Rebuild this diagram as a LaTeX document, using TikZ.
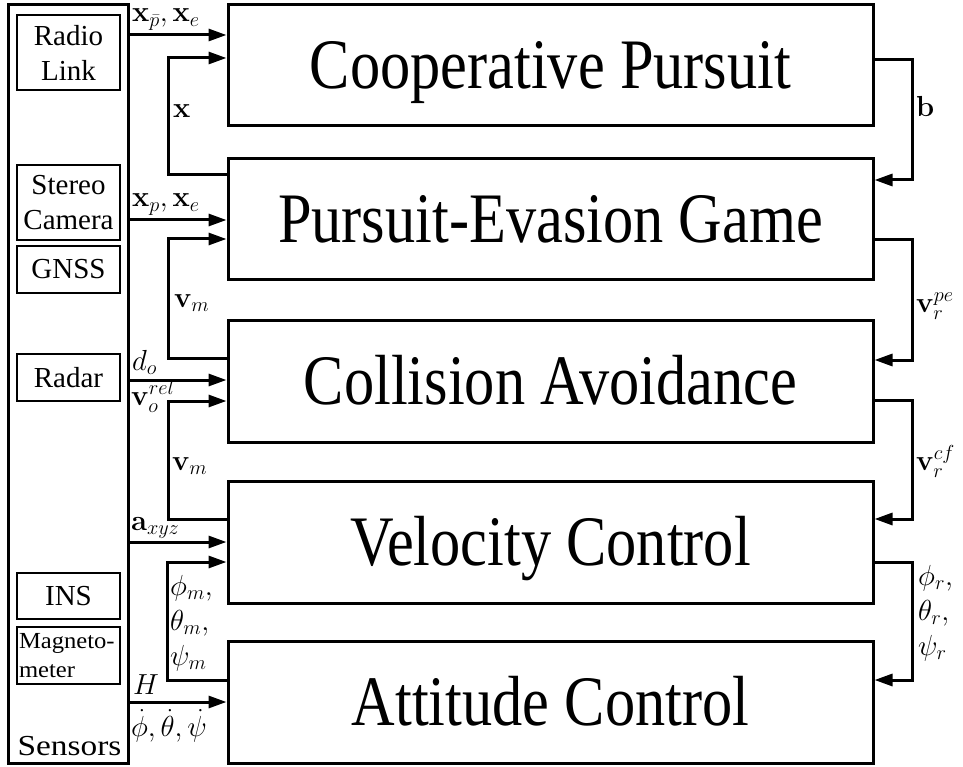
\RequirePackage{fix-cm}
\documentclass[tikz,border=0pt]{standalone}
\usepackage[no-math]{fontspec}
\newfontfamily\blocktextfamily{Liberation Serif}
\usetikzlibrary{arrows.meta}

% font set-ups for the three kinds of text
\newcommand\blockfont{\blocktextfamily\fontsize{71}{80}\selectfont}
\newcommand\sensorfont{\blocktextfamily\fontsize{29}{35}\selectfont}
\newcommand\smallsensorfont{\blocktextfamily\fontsize{23}{29}\selectfont}
\newcommand\signalfont{\fontsize{29}{35}\selectfont}
\newcommand\narrowtext[1]{\scalebox{0.85}[1]{#1}}
\newcommand\widetext[1]{\scalebox{1.07}[1]{#1}}

\begin{document}
\begin{tikzpicture}[x=1pt,y=1pt,
  block/.style={draw, line width=3pt, minimum width=645pt, inner sep=0pt,
    text height=47pt, text depth=0pt, font=\blockfont},
  sensbox/.style={draw, line width=2pt, minimum width=103pt, inner sep=0pt,
    align=center, font=\sensorfont},
  wire/.style={line width=3pt},
  arr/.style={wire, -{Triangle[length=18pt,width=12pt]}},
  sig/.style={inner sep=0pt, anchor=base west, font=\signalfont},
]
\useasboundingbox (0,0) rectangle (963,-767);

% control loop blocks
\node[block, minimum height=121pt] (coop)  at (550.5,-65.5) {\narrowtext{Cooperative Pursuit}};
\node[block, minimum height=120pt] (peg)   at (550.5,-219)  {\narrowtext{Pursuit-Evasion Game}};
\node[block, minimum height=122pt] (colav) at (550.5,-381)  {\narrowtext{Collision Avoidance}};
\node[block, minimum height=122pt] (velc)  at (550.5,-542)  {\narrowtext{Velocity Control}};
\node[block, minimum height=122pt] (attc)  at (550.5,-702)  {\narrowtext{Attitude Control}};

% sensor column
\node[draw, line width=3pt, minimum width=120pt, minimum height=758pt, inner sep=0pt] (sens) at (68,-384) {};
\node[sensbox, minimum height=75pt] (radio)  at (68.5,-52.5)  {Radio\\Link};
\node[sensbox, minimum height=75pt] (stereo) at (68.5,-202.5) {Stereo\\Camera};
\node[sensbox, minimum height=47pt] (gnss)   at (68.5,-269.5) {GNSS};
\node[sensbox, minimum height=47pt] (radar)  at (68.5,-377.5) {Radar};
\node[sensbox, minimum height=46pt] (ins)    at (68.5,-596)   {INS};
\node[sensbox, minimum height=57pt, font=\smallsensorfont, align=left, text width=99pt] (magn) at (68.5,-655.5) {\widetext{Magneto-}\\\widetext{meter}};
\node[inner sep=0pt, anchor=base, font=\sensorfont] (senslbl) at (69.5,-755) {\scalebox{1.15}[1]{Sensors}};

% sensor signals into the blocks
\draw[arr] (sens.east |- 0,-35)  -- (coop.west |- 0,-35);
\draw[arr] (sens.east |- 0,-220) -- (peg.west |- 0,-220);
\draw[arr] (sens.east |- 0,-380) -- (colav.west |- 0,-380);
\draw[arr] (sens.east |- 0,-542) -- (velc.west |- 0,-542);
\draw[arr] (sens.east |- 0,-702) -- (attc.west |- 0,-702);

% feedback paths on the left
\draw[arr] (peg.west |- 0,-175)   -- ++(-58,0) |- (coop.west |- 0,-58);
\draw[arr] (colav.west |- 0,-358) -- ++(-58,0) |- (peg.west |- 0,-239);
\draw[arr] (velc.west |- 0,-519)  -- ++(-58,0) |- (colav.west |- 0,-401);
\draw[arr] (attc.west |- 0,-680)  -- ++(-59,0) |- (velc.west |- 0,-562);

% references passed down on the right
\draw[arr] (coop.east |- 0,-60)  -- ++(38,0) |- (peg.east |- 0,-180);
\draw[arr] (peg.east |- 0,-240)  -- ++(38,0) |- (colav.east |- 0,-360);
\draw[arr] (colav.east |- 0,-400) -- ++(38,0) |- (velc.east |- 0,-519);
\draw[arr] (velc.east |- 0,-562) -- ++(38,0) |- (attc.east |- 0,-680);

% signal labels, left side
\node[sig] (lxpbar) at (132,-22)  {$\mathbf{x}_{\bar{p}},\mathbf{x}_e$};
\node[sig] (lx)     at (173,-118) {$\mathbf{x}$};
\node[sig] (lxp)    at (132,-207) {$\mathbf{x}_p,\mathbf{x}_e$};
\node[sig] (lvmone) at (174,-307) {$\mathbf{v}_m$};
\node[sig] (ldo)    at (132,-370) {$d_o$};
\node[sig] (lvrel)  at (131,-405) {$\mathbf{v}_o^{rel}$};
\node[sig] (lvmtwo) at (172,-470) {$\mathbf{v}_m$};
\node[sig] (laxyz)  at (131,-530) {$\mathbf{a}_{xyz}$};
\node[sig] (lphim)  at (170,-595) {$\phi_m,$};
\node[sig] (lthm)   at (170,-630) {$\theta_m,$};
\node[sig] (lpsim)  at (170,-665) {$\psi_m$};
\node[sig] (lH)     at (133,-694) {$H$};
\node[sig] (lrates) at (131,-736) {$\dot{\phi},\dot{\theta},\dot{\psi}$};

% signal labels, right side
\node[sig] (lb)    at (916,-117) {$\mathbf{b}$};
\node[sig] (lvpe)  at (916,-312) {$\mathbf{v}_r^{pe}$};
\node[sig] (lvcf)  at (916,-470) {$\mathbf{v}_r^{cf}$};
\node[sig] (lphir) at (918,-585) {$\phi_r,$};
\node[sig] (lthr)  at (918,-620) {$\theta_r,$};
\node[sig] (lpsir) at (918,-655) {$\psi_r$};
\end{tikzpicture}
\end{document}
